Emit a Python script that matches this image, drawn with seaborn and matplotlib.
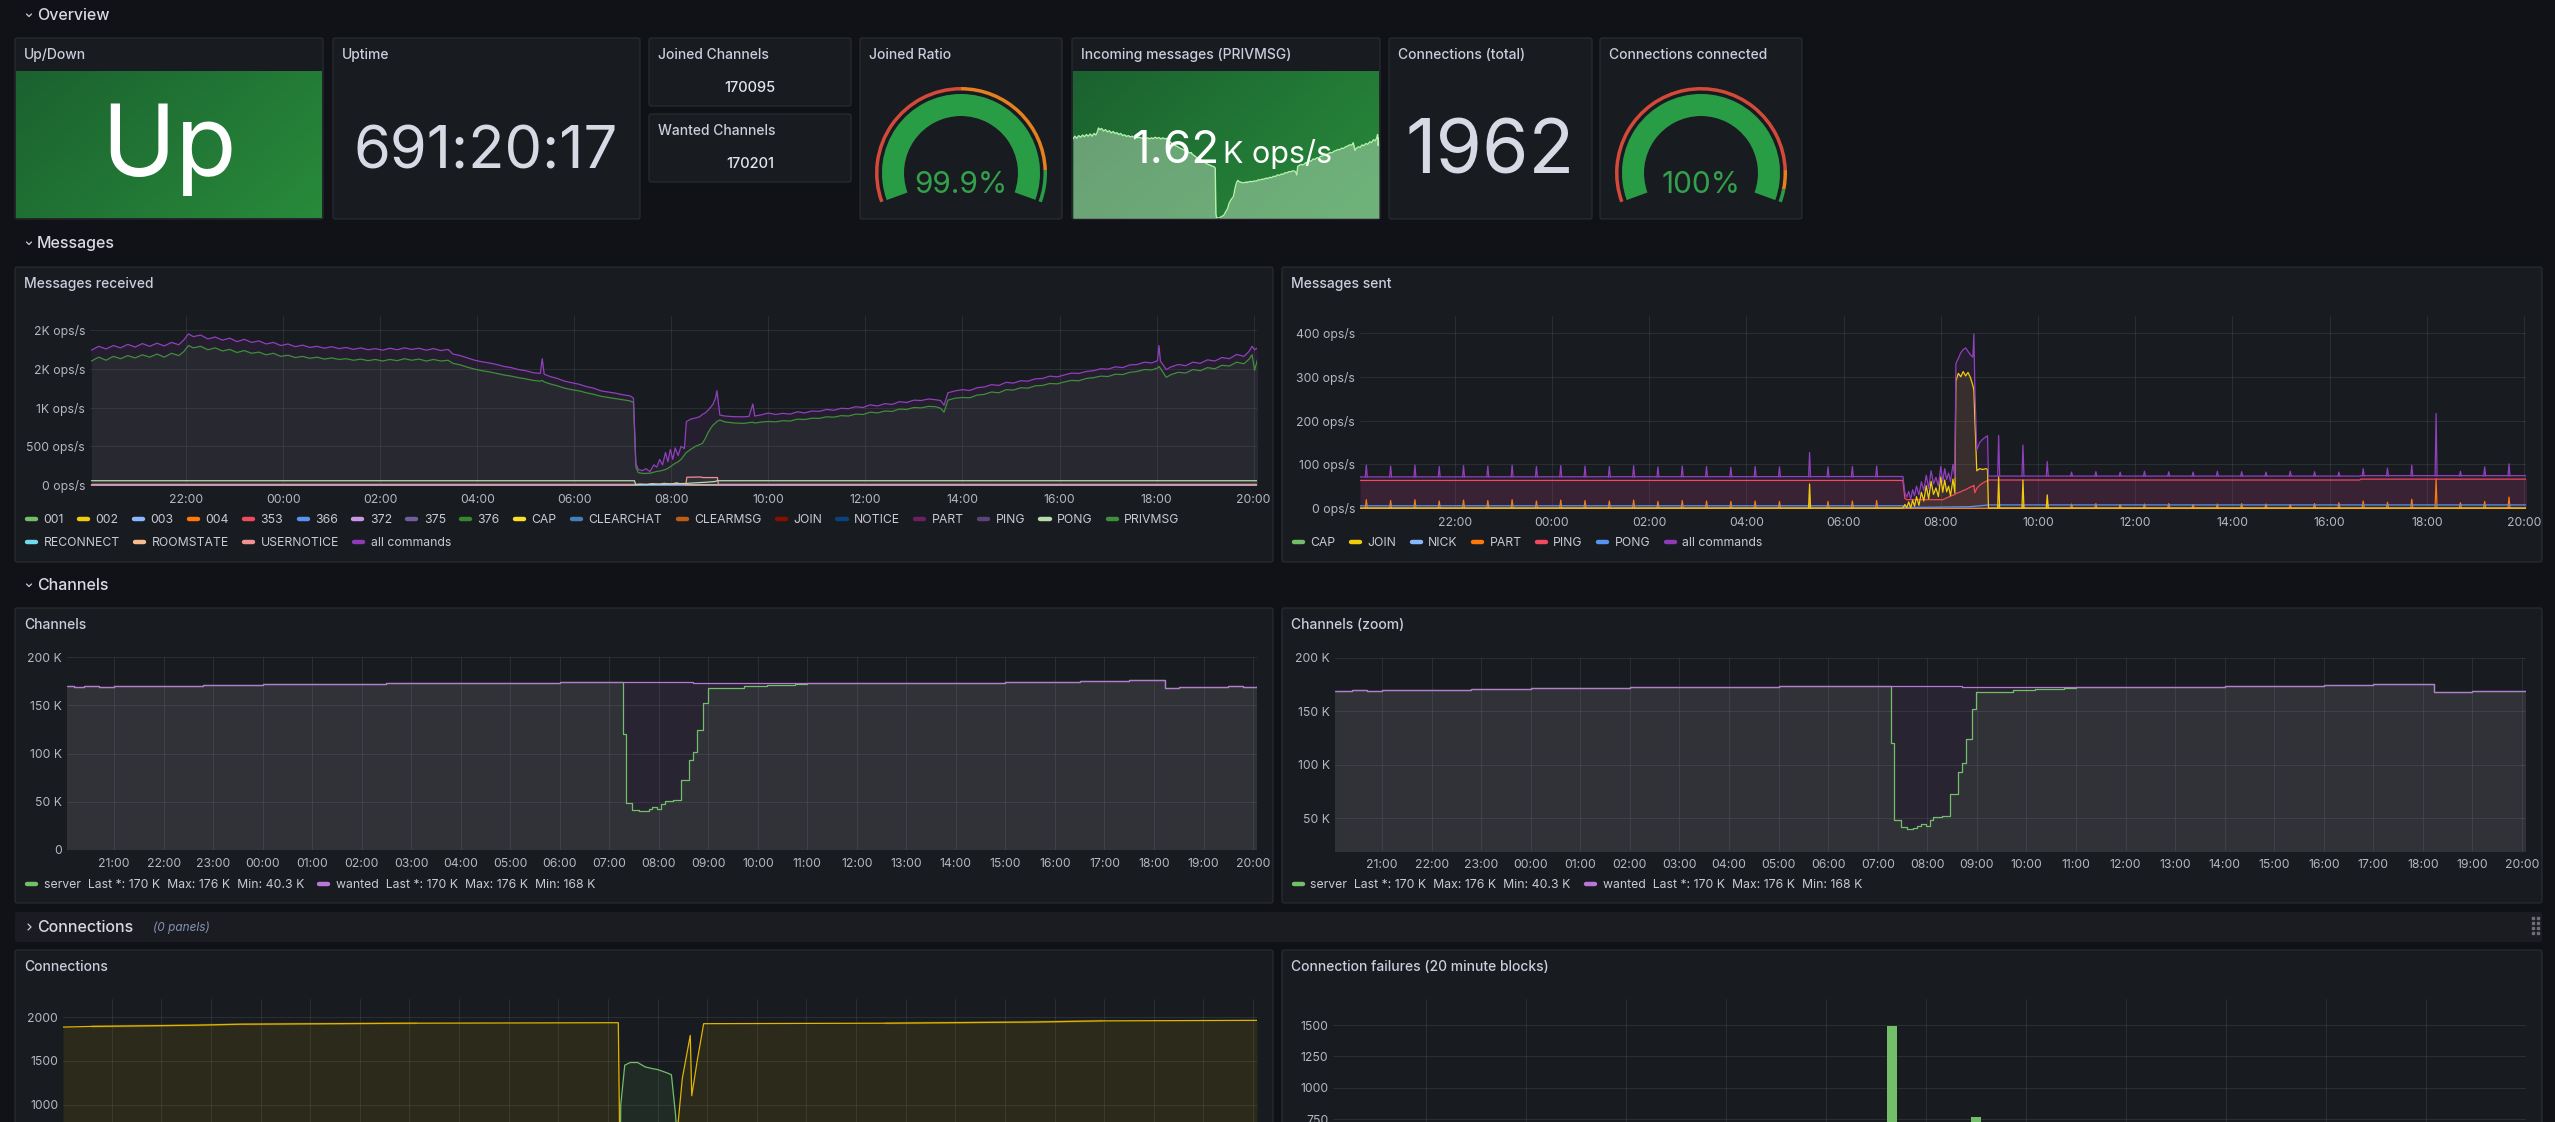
import numpy as np
import matplotlib
matplotlib.use('Agg')
import matplotlib.pyplot as plt
from matplotlib.patches import FancyBboxPatch, Wedge
from matplotlib.lines import Line2D
from matplotlib.legend import Legend
import seaborn as sns

W, H = 2555, 1122

# ---------------- data ----------------
# Messages received, hours since 00:00 of day one (20.05 = 20:03)
recv_hours = [20.05, 20.2, 20.35, 20.5, 20.65, 20.8, 20.95, 21.1, 21.25, 21.4, 21.55, 21.7, 21.85, 21.95,
              22.05, 22.15, 22.3, 22.45, 22.6, 22.75, 22.9, 23.05, 23.2, 23.35, 23.5, 23.65, 23.8, 23.95,
              24.1, 24.25, 24.4, 24.55, 24.7, 24.85, 25.0, 25.15, 25.3, 25.45, 25.6, 25.75, 25.9, 26.05,
              26.2, 26.35, 26.5, 26.65, 26.8, 26.95, 27.1, 27.25, 27.4,
              27.5, 27.65, 27.8, 27.95, 28.1, 28.25, 28.4, 28.55, 28.7, 28.85, 29.0, 29.15, 29.3, 29.34,
              29.38, 29.5, 29.65, 29.8, 29.95, 30.1, 30.25, 30.4, 30.55, 30.7, 30.85, 31.0, 31.15, 31.22,
              31.27, 31.32, 31.4, 31.48, 31.56, 31.64, 31.7, 31.76, 31.82, 31.88, 31.93, 31.98, 32.03, 32.08,
              32.14, 32.2, 32.27, 32.31, 32.4, 32.5, 32.58, 32.64, 32.7, 32.76, 32.82, 32.86, 32.91, 32.94, 33.0,
              33.1, 33.3, 33.5, 33.6, 33.68, 33.72, 33.85, 34.0, 34.15, 34.3, 34.45, 34.6, 34.75, 34.9, 35.05,
              35.2, 35.35, 35.5, 35.65, 35.8, 35.95, 36.1, 36.25, 36.4, 36.55, 36.7, 36.85, 37.0, 37.15, 37.3,
              37.45, 37.55, 37.62, 37.7, 37.85, 38.0, 38.15, 38.3, 38.45, 38.6, 38.75, 38.9, 39.05, 39.2, 39.35,
              39.5, 39.65, 39.8, 39.95, 40.1, 40.25, 40.4, 40.55, 40.7, 40.85, 41.0, 41.15, 41.3, 41.45, 41.6,
              41.75, 41.9, 42.02, 42.05, 42.08, 42.2, 42.3, 42.45, 42.6, 42.75, 42.9, 43.05, 43.2, 43.35, 43.5,
              43.65, 43.8, 43.9, 43.97, 44.02, 44.08]
recv_all = [1740, 1790, 1755, 1800, 1770, 1815, 1780, 1825, 1790, 1830, 1795, 1840, 1810, 1870,
            1950, 1915, 1935, 1885, 1910, 1870, 1895, 1850, 1880, 1840, 1860, 1820, 1840, 1800,
            1820, 1785, 1805, 1775, 1790, 1765, 1785, 1760, 1775, 1750, 1770, 1745, 1760, 1740,
            1765, 1745, 1770, 1750, 1765, 1740, 1760, 1735, 1750,
            1690, 1670, 1640, 1610, 1590, 1575, 1555, 1530, 1515, 1490, 1475, 1450, 1440, 1630,
            1430, 1400, 1375, 1340, 1320, 1300, 1270, 1250, 1215, 1200, 1185, 1165, 1150, 1120,
            280, 200, 185, 210, 172, 260, 230, 330, 260, 420, 300, 460, 330, 480,
            380, 500, 470, 817, 850, 865, 880, 910, 930, 968, 1010, 1045, 1120, 1217, 903,
            890, 881, 880, 885, 1045, 890, 905, 929, 910, 925, 915, 945, 930, 955, 950,
            975, 965, 990, 985, 1010, 1000, 1035, 1020, 1050, 1040, 1075, 1065, 1095, 1090, 1110,
            1100, 1090, 1030, 1190, 1215, 1230, 1220, 1255, 1265, 1295, 1285, 1325, 1315, 1345, 1340,
            1370, 1375, 1405, 1395, 1420, 1445, 1440, 1465, 1475, 1500, 1495, 1525, 1515, 1550, 1555,
            1585, 1575, 1605, 1800, 1600, 1490, 1525, 1555, 1540, 1585, 1570, 1615, 1600, 1645, 1630,
            1685, 1660, 1720, 1790, 1745, 1770]
recv_privmsg = [1600, 1650, 1610, 1660, 1630, 1670, 1640, 1680, 1650, 1690, 1650, 1700, 1670, 1720,
                1800, 1770, 1790, 1745, 1770, 1730, 1750, 1710, 1735, 1700, 1715, 1680, 1700, 1660,
                1675, 1645, 1660, 1635, 1650, 1625, 1640, 1620, 1630, 1610, 1625, 1605, 1620, 1600,
                1620, 1605, 1630, 1610, 1625, 1600, 1620, 1600, 1610,
                1570, 1550, 1520, 1495, 1475, 1460, 1440, 1420, 1405, 1385, 1370, 1350, 1340, 1350,
                1330, 1305, 1280, 1250, 1230, 1215, 1190, 1170, 1145, 1130, 1115, 1100, 1085, 1065,
                230, 160, 150, 150, 152, 165, 175, 180, 190, 200, 215, 237, 260, 280,
                300, 330, 387, 420, 460, 500, 520, 537, 600, 680, 740, 774, 800, 820, 839,
                815, 800, 795, 805, 810, 800, 812, 820, 815, 830, 825, 850, 845, 862, 860,
                880, 875, 895, 890, 915, 910, 940, 930, 955, 950, 980, 975, 1000, 995, 1015,
                1010, 990, 940, 1095, 1120, 1130, 1125, 1160, 1170, 1200, 1190, 1230, 1225, 1255, 1250,
                1280, 1285, 1310, 1305, 1330, 1350, 1345, 1375, 1385, 1405, 1400, 1430, 1425, 1455, 1465,
                1490, 1485, 1510, 1530, 1505, 1390, 1425, 1455, 1445, 1490, 1475, 1515, 1500, 1545, 1535,
                1585, 1565, 1620, 1680, 1480, 1620]
recv_pong_hours = [20.05, 31.24, 31.27, 32.3, 32.5, 32.7, 32.9, 32.95, 44.08]
recv_pong = [55, 55, 3, 20, 28, 35, 45, 55, 55]
recv_usernotice_hours = [20.05, 32.3, 32.32, 32.6, 32.65, 32.95, 32.97, 44.08]
recv_usernotice = [8, 8, 100, 103, 96, 96, 8, 8]
recv_roomstate_hours = [20.05, 31.25, 31.35, 31.5, 31.6, 31.75, 31.85, 32.0, 32.1, 32.2, 32.3, 44.08]
recv_roomstate = [2, 2, 12, 5, 18, 8, 22, 10, 28, 14, 3, 2]
recv_366_hours = [20.05, 44.08]
recv_366 = [4, 4]

recv_legend_1 = ['001', '002', '003', '004', '353', '366', '372', '375', '376', 'CAP', 'CLEARCHAT',
                 'CLEARMSG', 'JOIN', 'NOTICE', 'PART', 'PING', 'PONG', 'PRIVMSG']
recv_colors_1 = ['#73BF69', '#F2CC0C', '#8AB8FF', '#FF780A', '#F2495C', '#5794F2', '#CA95E5', '#705DA0',
                 '#37872D', '#FADE2A', '#447EBC', '#C15C17', '#890F02', '#0A437C', '#6D1F62', '#584477',
                 '#B7DBAB', '#3f8f3a']
recv_legend_2 = ['RECONNECT', 'ROOMSTATE', 'USERNOTICE', 'all commands']
recv_colors_2 = ['#70DBED', '#F9BA8F', '#F29191', '#8F3BB8']

# Messages sent
sent_hours = [20.05, 31.22, 31.26, 31.3, 31.34, 31.38, 31.42, 31.46, 31.5, 31.55, 31.6, 31.65, 31.7, 31.75,
              31.8, 31.85, 31.9, 31.95, 32.0, 32.04, 32.08, 32.12, 32.16, 32.2, 32.25, 32.29, 32.31, 32.36,
              32.41, 32.46, 32.51, 32.56, 32.61, 32.66, 32.68, 32.7, 32.74, 32.8, 32.86, 32.93, 32.96, 32.98,
              40.62, 40.64, 44.05]
sent_all = [71, 72, 35, 25, 38, 20, 42, 28, 50, 30, 60, 40, 75, 45, 85, 55, 70, 50, 95, 60, 90, 65, 80, 60,
            100, 70, 330, 342, 355, 362, 366, 358, 350, 345, 398, 275, 133, 150, 157, 163, 165, 73, 73, 74, 74]
sent_join = [0, 0, 8, 1, 14, 0, 18, 4, 26, 6, 36, 16, 51, 21, 61, 31, 46, 26, 71, 36, 64, 37, 50, 28, 66, 34,
             290, 308, 300, 312, 302, 310, 298, 280, 270, 205, 85, 90, 88, 90, 88, 0, 0, 0, 0]
sent_ping = [63, 63, 22, 19, 19, 19, 19, 19, 19, 19, 19, 19, 19, 19, 19, 19, 19, 19, 19, 19, 21, 23, 25, 27,
             29, 31, 33, 35, 37, 40, 42, 45, 48, 50, 52, 35, 45, 52, 57, 61, 63, 64, 64, 66, 66]
sent_pong_hours = [20.05, 31.22, 31.26, 32.6, 32.98, 44.05]
sent_pong = [5, 5, 1, 3, 7, 7]
sent_flat_hours = [20.05, 44.05]
sent_cap = [0, 0]
sent_nick = [0.5, 0.5]
sent_part = [1, 1]
spike_hours = [20.18, 20.68, 21.18, 21.68, 22.18, 22.68, 23.18, 23.68, 24.18, 24.68, 25.18, 25.68, 26.18,
               26.68, 27.18, 27.68, 28.18, 28.68, 29.3, 29.68, 30.18, 30.68, 33.19, 33.69, 34.19, 34.69,
               35.19, 35.69, 36.19, 36.69, 37.19, 37.69, 38.19, 38.69, 39.19, 39.69, 40.19, 40.69, 41.19,
               41.69, 42.19, 42.69, 43.19, 43.69]
spike_all = [98, 96, 98, 95, 97, 96, 98, 95, 97, 96, 95, 97, 94, 96, 95, 93, 95, 94, 127, 94, 95, 96,
             166, 144, 106, 82, 83, 82, 84, 83, 82, 84, 83, 82, 84, 83, 82, 90, 91, 98, 216, 84, 94, 101]
spike_part = [19, 17, 19, 16, 18, 17, 19, 16, 18, 17, 16, 18, 15, 17, 16, 15, 16, 15, 12, 15, 16, 17,
              8, 9, 8, 9, 10, 8, 9, 10, 8, 9, 10, 9, 8, 10, 12, 16, 13, 20, 67, 12, 15, 25]
join_spike_hours = [29.3, 33.19, 33.69, 34.19]
join_spike = [55, 72, 64, 30]
sent_legend = ['CAP', 'JOIN', 'NICK', 'PART', 'PING', 'PONG', 'all commands']
sent_colors = ['#73BF69', '#F2CC0C', '#8AB8FF', '#FF780A', '#F2495C', '#5794F2', '#8F3BB8']

# Channels (thousands)
chan_hours = [20.05, 20.2, 20.4, 20.7, 21.0, 21.4, 21.7, 22.0, 22.4, 22.8, 23.2, 23.6, 24.0, 24.5, 25.0,
              25.5, 26.0, 26.5, 27.0, 27.5, 28.0, 29.0, 30.0, 31.0, 31.25, 31.27, 31.33, 31.46, 31.6, 31.71,
              31.8, 31.87, 31.97, 32.05, 32.12, 32.29, 32.45, 32.62, 32.7, 32.78, 32.9, 32.99, 33.4, 33.72,
              34.18, 34.75, 35.0, 36.0, 37.0, 37.5, 38.0, 39.0, 40.0, 40.5, 41.0, 41.5, 42.0, 42.22, 42.5,
              43.0, 43.5, 43.8, 44.07]
chan_wanted = [169.5, 169.0, 169.8, 169.3, 170.0, 169.6, 170.2, 170.4, 170.3, 170.9, 171.0, 171.4, 171.6,
               171.8, 171.9, 172.3, 172.4, 172.7, 172.9, 173.2, 173.3, 173.5, 173.6, 173.6, 173.6, 173.6,
               173.6, 173.6, 173.6, 173.6, 174.2, 173.6, 173.6, 173.6, 173.6, 173.6, 173.6, 173.6, 172.6,
               172.6, 172.6, 172.6, 172.6, 172.6, 172.7, 172.8, 172.8, 173.0, 173.1, 173.3, 173.4, 174.1,
               174.6, 174.8, 175.3, 175.8, 175.9, 167.9, 168.6, 169.2, 169.5, 168.9, 169.6]
chan_server = [169.5, 169.0, 169.8, 169.3, 170.0, 169.6, 170.2, 170.4, 170.3, 170.9, 171.0, 171.4, 171.6,
               171.8, 171.9, 172.3, 172.4, 172.7, 172.9, 173.2, 173.3, 173.5, 173.6, 173.6, 173.6, 120.0,
               48.4, 41.5, 40.3, 40.5, 43.0, 45.0, 43.0, 48.0, 51.2, 51.9, 72.7, 93.4, 102.0, 124.6, 152.0,
               167.8, 168.0, 169.6, 171.3, 172.3, 172.8, 173.0, 173.1, 173.3, 173.4, 174.1, 174.6, 174.8,
               175.3, 175.8, 175.9, 167.9, 168.6, 169.2, 169.5, 168.9, 169.6]

# Connections
conn_hours = [20.02, 20.6, 20.6, 22.62, 22.62, 23.62, 23.62, 27.15, 27.15, 31.21, 31.25, 32.3, 32.35, 32.5,
              32.66, 32.69, 32.8, 32.93, 36.59, 36.59, 39.52, 39.52, 40.97, 40.97, 44.08]
conn_connected = [1885, 1885, 1900, 1900, 1912, 1912, 1924, 1924, 1935, 1935, 0, 0, 400, 1300, 1790, 1100,
                  1500, 1924, 1924, 1935, 1935, 1950, 1950, 1962, 1962]
conn_other_hours = [20.02, 31.24, 31.26, 31.34, 31.45, 31.6, 31.75, 31.9, 32.0, 32.1, 32.2, 32.28, 32.36,
                    32.44, 32.5, 44.08]
conn_other = [0, 0, 1000, 1450, 1480, 1480, 1430, 1410, 1400, 1380, 1360, 1340, 900, 300, 0, 0]
fail_hours = [31.33, 33.0]
fail_counts = [1490, 770]

# Stat panels
uptime_text = '691:20:17'
joined_channels = 170095
wanted_channels = 170201
joined_ratio = 99.9
connections_total = 1962
connections_connected = 100.0

# ---------------- style ----------------
BG = '#111217'
PANEL = '#181b1f'
BORDER = '#2a2d33'
TXT = '#ccccdc'
TICK = '#b6b7c1'

sns.set_theme(style='dark', rc={'axes.facecolor': PANEL, 'figure.facecolor': BG})
plt.rcParams['font.family'] = ['Inter', 'DejaVu Sans']

fig = plt.figure(figsize=(W / 100, H / 100), dpi=100, facecolor=BG)
canvas = fig.add_axes([0, 0, 1, 1], zorder=0)
canvas.axis('off')


def box(x0, y0, x1, y1):
    return [x0 / W, 1 - y1 / H, (x1 - x0) / W, (y1 - y0) / H]


def panel(x0, y0, x1, y1, title=None):
    canvas.add_patch(FancyBboxPatch((x0, y0), x1 - x0, y1 - y0, boxstyle='round,pad=0,rounding_size=2',
                                    fc=PANEL, ec=BORDER, lw=0.8, zorder=1))
    if title:
        canvas.text(x0 + 9, y0 + 17, title, color=TXT, fontsize=10, fontweight='medium',
                    ha='left', va='center', zorder=3)


def section(y, label, collapsed=False):
    if collapsed:
        canvas.plot([28, 31, 28], [y - 3, y, y + 3], color=TXT, lw=0.9, zorder=3)
    else:
        canvas.plot([26.5, 29, 31.5], [y - 1, y + 1.5, y - 1], color=TXT, lw=0.9, zorder=3)
    canvas.text(37, y, label, color='#d8d9e3', fontsize=11.5, fontweight='medium', ha='left',
                va='center', zorder=3)


def gradient(x0, y0, x1, y1):
    c0 = np.array([0x1b, 0x62, 0x30]) / 255
    c1 = np.array([0x28, 0x8a, 0x3a]) / 255
    yy, xx = np.mgrid[0:1:40j, 0:1:40j]
    t = (0.65 * xx + 0.35 * yy)[..., None]
    canvas.imshow(c0 * (1 - t) + c1 * t, extent=(x0, x1, y1, y0), aspect='auto',
                  interpolation='bilinear', zorder=2)


def gauge(cx, cy, value, bands):
    def ang(f):
        return 200 - 220 * f
    canvas.add_patch(Wedge((cx, cy), 79, -ang(0), -ang(1), width=22, fc='#2c2f36', ec='none', zorder=2))
    canvas.add_patch(Wedge((cx, cy), 79, -ang(0), -ang(value / 100), width=22, fc='#299c46',
                           ec='none', zorder=3))
    for f0, f1, c in bands:
        canvas.add_patch(Wedge((cx, cy), 86, -ang(f0), -ang(f1), width=3.5, fc=c, ec='none', zorder=3))
    canvas.text(cx, cy + 12, f'{value:g}%', color='#33a14c', fontsize=21.5, ha='center', va='center',
                zorder=4)


def style_ax(ax, xlim, ylim, xticks, yticks, ylabels, show_x=True):
    ax.set_facecolor('none')
    for s in ax.spines.values():
        s.set_visible(False)
    ax.set_xlim(*xlim)
    ax.set_ylim(*ylim)
    ax.set_xticks(xticks)
    ax.set_xticklabels([f'{int(h) % 24:02d}:00' for h in xticks] if show_x else [])
    ax.set_yticks(yticks)
    ax.set_yticklabels(ylabels)
    ax.tick_params(length=0, labelsize=8.8, labelcolor=TICK)
    ax.tick_params(axis='x', pad=5.5)
    ax.tick_params(axis='y', pad=3.5)
    ax.grid(True, color='#ccccdc', alpha=0.1, lw=0.8)
    ax.set_axisbelow(True)
    ax.set_xlabel('')
    ax.set_ylabel('')


def legend_row(ax, labels, colors, x, y):
    handles = [Line2D([0], [0], color=c, lw=3.2, solid_capstyle='round') for c in colors]
    leg = Legend(ax, handles, labels, loc='center left', bbox_to_anchor=(x / W, 1 - y / H),
                 bbox_transform=fig.transFigure, ncol=len(labels), frameon=False, fontsize=8.8,
                 handlelength=0.75, handletextpad=0.6, columnspacing=1.25, borderpad=0, borderaxespad=0,
                 labelcolor='#c9cad4')
    ax.add_artist(leg)


def line(ax, x, y, color, lw=0.9, fill=0.1, step=False):
    kw = {'drawstyle': 'steps-post'} if step else {}
    sns.lineplot(x=x, y=y, ax=ax, color=color, linewidth=lw, legend=False, sort=False, **kw)
    if fill:
        ax.fill_between(x, 0, y, color=color, alpha=fill, lw=0, step='post' if step else None)


def spikes(ax, hours, peaks, base_pre, base_post, color):
    xs, ys = [], []
    for t, p in zip(hours, peaks):
        b = base_pre if t < 31.5 else base_post
        xs += [t - 0.02, t, t + 0.02, np.nan]
        ys += [b, p, b, np.nan]
    ax.plot(xs, ys, color=color, lw=0.9)


# ---------------- section headers ----------------
section(15, 'Overview')
section(243, 'Messages')
section(585, 'Channels')

# ---------------- stat row ----------------
panel(15, 38, 323, 219, 'Up/Down')
gradient(16, 71, 322, 218)
canvas.text(169, 176, 'Up', color='white', fontsize=72, ha='center', va='baseline', zorder=4)

panel(333, 38, 640, 219, 'Uptime')
canvas.text(486, 168, uptime_text, color='#d8d9e4', fontsize=43, ha='center', va='baseline', zorder=4)

panel(649, 38, 851, 106, 'Joined Channels')
canvas.text(750, 88, str(joined_channels), color='#e4e4ec', fontsize=10.5, fontweight='medium',
            ha='center', va='center', zorder=4)
panel(649, 114, 851, 182, 'Wanted Channels')
canvas.text(750, 164, str(wanted_channels), color='#e4e4ec', fontsize=10.5, fontweight='medium',
            ha='center', va='center', zorder=4)

panel(860, 38, 1062, 219, 'Joined Ratio')
gauge(961, 173, joined_ratio, [(0, 0.5, '#d44a3a'), (0.5, 0.9, '#e5801f'), (0.9, 1.0, '#299c46')])

panel(1072, 38, 1380, 219, 'Incoming messages (PRIVMSG)')
gradient(1073, 71, 1379, 218)

panel(1389, 38, 1592, 219, 'Connections (total)')
canvas.text(1490, 173, str(connections_total), color='#d8d9e4', fontsize=54, ha='center',
            va='baseline', zorder=4)

panel(1600, 38, 1802, 219, 'Connections connected')
gauge(1701, 173, connections_connected, [(0, 0.9, '#d44a3a'), (0.9, 0.96, '#e5801f'),
                                         (0.96, 1.0, '#299c46')])

# ---------------- chart panels ----------------
panel(15, 267, 1273, 562, 'Messages received')
panel(1282, 267, 2542, 562, 'Messages sent')
panel(15, 608, 1273, 903, 'Channels')
panel(1282, 608, 2542, 903, 'Channels (zoom)')
canvas.add_patch(FancyBboxPatch((15, 912), 2527, 30, boxstyle='round,pad=0,rounding_size=2',
                                fc='#1a1c21', ec='none', zorder=1))
section(927, 'Connections', collapsed=True)
canvas.text(153, 928, '(0 panels)', color='#8593b5', fontsize=8.5, fontstyle='italic',
            ha='left', va='center', zorder=3)
for dx in (2533, 2538):
    canvas.plot([dx] * 4, [918, 923, 928, 933], ls='none', marker='s', ms=1.6, color='#6c6f77', zorder=3)
panel(15, 950, 1273, 1140, 'Connections')
panel(1282, 950, 2542, 1140, 'Connection failures (20 minute blocks)')

canvas.set_xlim(0, W)
canvas.set_ylim(H, 0)

# sparkline
spark = fig.add_axes(box(1073, 71, 1379, 218), zorder=1)
spark.axis('off')
vmin, vmax = min(recv_privmsg), max(recv_privmsg)
spark.fill_between(recv_hours, 0, recv_privmsg, color='#c8e6c9', alpha=0.45, lw=0)
sns.lineplot(x=recv_hours, y=recv_privmsg, ax=spark, color='#b5f0ad', linewidth=1.0, sort=False)
spark.set_xlim(20.05, 44.08)
spark.set_ylim(vmin, vmin + (vmax - vmin) * 147 / 90)
last = recv_privmsg[-1] / 1000
spark.text(1220, 163, f'{last:.2f}', transform=canvas.transData, color='white', fontsize=33,
           ha='right', va='baseline', zorder=5)
spark.text(1223, 163, 'K ops/s', transform=canvas.transData, color='white', fontsize=22,
           ha='left', va='baseline', zorder=5)

# Messages received
ax = fig.add_axes(box(90, 316, 1257, 486), zorder=1)
line(ax, recv_366_hours, recv_366, '#5794F2', fill=0)
line(ax, recv_roomstate_hours, recv_roomstate, '#F9BA8F', fill=0)
line(ax, recv_usernotice_hours, recv_usernotice, '#F29191', fill=0.08)
line(ax, recv_pong_hours, recv_pong, '#B7DBAB', fill=0.05)
line(ax, recv_hours, recv_privmsg, '#3f8f3a')
line(ax, recv_hours, recv_all, '#9140bd')
style_ax(ax, (20.02, 44.07), (-13, 2181), list(range(22, 45, 2)), [0, 500, 1000, 1500, 2000],
         ['0 ops/s', '500 ops/s', '1K ops/s', '2K ops/s', '2K ops/s'])
legend_row(ax, recv_legend_1, recv_colors_1, 27, 520)
legend_row(ax, recv_legend_2, recv_colors_2, 27, 543)

# Messages sent
ax = fig.add_axes(box(1360, 316, 2526, 509), zorder=1)
line(ax, sent_flat_hours, sent_cap, '#73BF69', fill=0)
line(ax, sent_flat_hours, sent_nick, '#8AB8FF', fill=0)
line(ax, sent_flat_hours, sent_part, '#FF780A', fill=0)
spikes(ax, spike_hours, spike_part, 1, 1, '#FF780A')
line(ax, sent_pong_hours, sent_pong, '#5794F2', fill=0.05)
line(ax, sent_hours, sent_ping, '#F2495C')
line(ax, sent_hours, sent_join, '#F2CC0C')
spikes(ax, join_spike_hours, join_spike, 0, 0, '#F2CC0C')
line(ax, sent_hours, sent_all, '#9140bd')
spikes(ax, spike_hours, spike_all, 71, 73, '#9140bd')
style_ax(ax, (20.05, 44.04), (-2.3, 439), list(range(22, 45, 2)), [0, 100, 200, 300, 400],
         [f'{v} ops/s' for v in [0, 100, 200, 300, 400]])
legend_row(ax, sent_legend, sent_colors, 1294, 543)


# Channels + zoom
def chan_labels():
    out = []
    for name, s in (('server', chan_server), ('wanted', chan_wanted)):
        out.append(f'{name}  Last *: {s[-1]:.3g} K  Max: {max(s):.3g} K  Min: {min(s):.3g} K')
    return out


for bx, ylim, yt, lx in (((67, 657, 1257, 850), (0, 200), [0, 50, 100, 150, 200], 27),
                         ((1335, 658, 2526, 851), (19.3, 200), [50, 100, 150, 200], 1294)):
    ax = fig.add_axes(box(*bx), zorder=1)
    line(ax, chan_hours, chan_server, '#73BF69', step=True)
    line(ax, chan_hours, chan_wanted, '#B877D9', step=True)
    style_ax(ax, (20.05, 44.08), ylim, list(range(21, 45)), yt,
             [f'{v} K' if v else '0' for v in yt])
    legend_row(ax, chan_labels(), ['#73BF69', '#B877D9'], lx, 885)

# Connections (lower part of the panel runs off the bottom of the screenshot)
ax = fig.add_axes(box(63, 999, 1257, 1192), zorder=1)
line(ax, conn_other_hours, conn_other, '#73BF69')
line(ax, conn_hours, conn_connected, '#E0B400')
style_ax(ax, (20.02, 44.08), (0, 2206), list(range(21, 45)), [1000, 1500, 2000],
         ['1000', '1500', '2000'], show_x=False)

# Connection failures
ax = fig.add_axes(box(1333, 999, 2526, 1213), zorder=1)
ax.bar(fail_hours, fail_counts, width=0.2, color='#73BF69', edgecolor='none', linewidth=0, zorder=2)
style_ax(ax, (20.14, 44.0), (0, 1708), list(range(22, 45, 2)), [750, 1000, 1250, 1500],
         ['750', '1000', '1250', '1500'], show_x=False)

fig.savefig('out.png', dpi=100, facecolor=BG)
